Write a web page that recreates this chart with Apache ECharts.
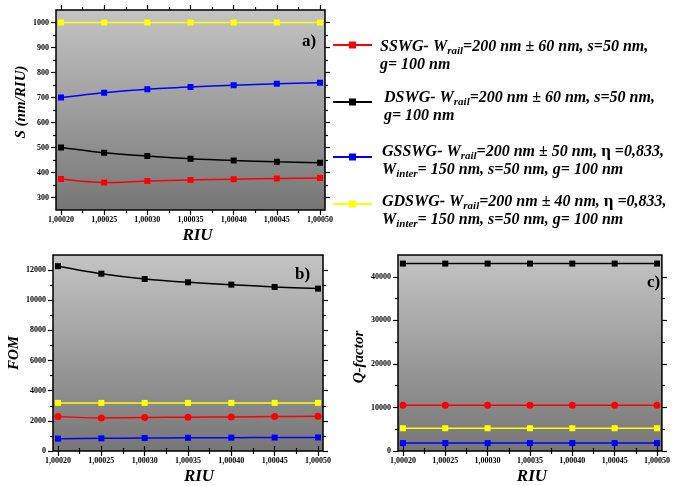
<!DOCTYPE html>
<html>
<head>
<meta charset="utf-8">
<script src="https://cdn.jsdelivr.net/npm/echarts@6/dist/echarts.min.js"></script>
<style>
html,body{margin:0;padding:0;background:#fff}
#main{width:673px;height:486px}
</style>
</head>
<body>
<div id="main"></div>
<script>
// x values (RIU)
var riu = [1.00020, 1.00025, 1.00030, 1.00035, 1.00040, 1.00045, 1.00050]

// a) sensitivity S (nm/RIU)
var sSSWG = [374, 360, 366, 370, 373, 376, 378]
var sDSWG = [500, 479, 466, 455, 448, 443, 439]
var sGSSWG = [700, 719, 733, 742, 749, 755, 759]
var sGDSWG = [1000, 1000, 1000, 1000, 1000, 1000, 1000]

// b) FOM
var fomSSWG = [2280, 2190, 2220, 2240, 2260, 2280, 2300]
var fomDSWG = [12260, 11760, 11410, 11190, 11035, 10880, 10770]
var fomGSSWG = [820, 840, 860, 875, 885, 890, 900]
var fomGDSWG = [3190, 3190, 3190, 3190, 3190, 3190, 3190]

// c) Q-factor
var qSSWG = [10530, 10530, 10530, 10530, 10530, 10530, 10530]
var qDSWG = [43030, 43030, 43030, 43030, 43030, 43030, 43030]
var qGSSWG = [1820, 1820, 1820, 1820, 1820, 1820, 1820]
var qGDSWG = [5230, 5230, 5230, 5230, 5230, 5230, 5230]

// tick labels
var sTicks = [300, 400, 500, 600, 700, 800, 900, 1000]
var fomTicks = [0, 2000, 4000, 6000, 8000, 10000, 12000]
var qTicks = [0, 10000, 20000, 30000, 40000]

var chart = echarts.init(document.getElementById('main'))
var serif = '"Liberation Serif", "Times New Roman", serif'
var red = '#ff0000', black = '#000000', blue = '#0000ff', yellow = '#ffff00'

function riuLabel(v) { return v.toFixed(5).replace('.', ',') }
function plainLabel(v) { return String(v) }
function mids(arr) {
	var out = []
	for (var i = 0; i < arr.length - 1; i++) out.push((arr[i] + arr[i + 1]) / 2)
	return out
}
function minorAfter(arr) {
	// midpoints plus one past the last tick
	var m = mids(arr)
	m.push(arr[arr.length - 1] + (arr[1] - arr[0]) / 2)
	return m
}
var pad = 0.0000058
var xMin = riu[0] - pad, xMax = riu[riu.length - 1] + pad

var grids = [
	{left: 56, top: 10, width: 269, height: 200},
	{left: 53, top: 255, width: 270, height: 198},
	{left: 398, top: 255, width: 269, height: 198}
]
var bg = new echarts.graphic.LinearGradient(0, 0, 0, 1, [
	{offset: 0, color: '#c4c4c4'},
	{offset: 1, color: '#767676'}
])

var xAxes = [], yAxes = []
var tickStyle = {color: '#000', width: 1.2}
var labelStyle = {fontSize: 8, fontWeight: 'bold', fontFamily: serif, color: '#000'}

function addAxes(g, yMin, yMax, yTicks, yMinor, yName, yGap, yNamePad, xNamePad) {
	var base = xAxes.length
	// bottom main
	xAxes.push({
		type: 'value', gridIndex: g, min: xMin, max: xMax, position: 'bottom',
		axisLine: {show: false}, splitLine: {show: false},
		axisTick: {show: true, customValues: riu, length: 5, lineStyle: tickStyle},
		axisLabel: Object.assign({customValues: riu, formatter: riuLabel, margin: 6}, labelStyle),
		name: 'RIU', nameLocation: 'middle', nameGap: 17,
		nameTextStyle: {fontSize: 17, fontStyle: 'italic', fontWeight: 'bold', fontFamily: serif, color: '#000', padding: xNamePad}
	})
	// bottom minor, top main, top minor
	var extra = [['bottom', mids(riu), 3], ['top', riu, 5], ['top', mids(riu), 3]]
	extra.forEach(function (e) {
		xAxes.push({
			type: 'value', gridIndex: g, min: xMin, max: xMax, position: e[0],
			axisLine: {show: false}, splitLine: {show: false}, axisLabel: {show: false},
			axisTick: {show: true, customValues: e[1], length: e[2], lineStyle: tickStyle}
		})
	})
	yAxes.push({
		type: 'value', gridIndex: g, min: yMin, max: yMax, position: 'left',
		axisLine: {show: false}, splitLine: {show: false},
		axisTick: {show: true, customValues: yTicks, length: 5, lineStyle: tickStyle},
		axisLabel: Object.assign({customValues: yTicks, formatter: plainLabel, margin: 7}, labelStyle),
		name: yName, nameLocation: 'middle', nameGap: yGap,
		nameTextStyle: {fontSize: 15, fontStyle: 'italic', fontWeight: 'bold', fontFamily: serif, color: '#000', padding: yNamePad}
	})
	var yExtra = [['left', yMinor, 3], ['right', yTicks, 5], ['right', yMinor, 3]]
	yExtra.forEach(function (e) {
		yAxes.push({
			type: 'value', gridIndex: g, min: yMin, max: yMax, position: e[0],
			axisLine: {show: false}, splitLine: {show: false}, axisLabel: {show: false},
			axisTick: {show: true, customValues: e[1].filter(function (v) { return v < yMax }), length: e[2], lineStyle: tickStyle}
		})
	})
	return base
}

var ia = addAxes(0, 250, 1050, sTicks, minorAfter(sTicks), 'S (nm/RIU)', 26, [0, 0, 0, 16], [0, 0, 0, 14])
var ib = addAxes(1, 0, 13000, fomTicks, minorAfter(fomTicks), 'FOM', 30, [0, 0, 0, 0], [0, 0, 0, 22])
var ic = addAxes(2, 0, 45000, qTicks, minorAfter(qTicks), 'Q-factor', 30, [0, 8, 0, 0], [0, 0, 0, 4])

function pts(arr) { return riu.map(function (x, i) { return [x, arr[i]] }) }
function line(name, color, data, axisIdx, symbol) {
	return {
		name: name, type: 'line', xAxisIndex: axisIdx, yAxisIndex: axisIdx,
		data: pts(data), smooth: 0.3, symbol: symbol || 'rect', symbolSize: symbol === 'circle' ? 7 : 6,
		lineStyle: {color: color, width: 1.5}, itemStyle: {color: color, borderWidth: 0},
		animation: false
	}
}

var series = [
	line('GDSWG', yellow, sGDSWG, ia),
	line('GSSWG', blue, sGSSWG, ia),
	line('DSWG', black, sDSWG, ia),
	line('SSWG', red, sSSWG, ia),
	line('DSWG', black, fomDSWG, ib),
	line('GDSWG', yellow, fomGDSWG, ib),
	line('SSWG', red, fomSSWG, ib, 'circle'),
	line('GSSWG', blue, fomGSSWG, ib),
	line('DSWG', black, qDSWG, ic),
	line('SSWG', red, qSSWG, ic, 'circle'),
	line('GDSWG', yellow, qGDSWG, ic),
	line('GSSWG', blue, qGSSWG, ic)
]

// legend text
var rich = {
	b: {fontFamily: serif, fontStyle: 'italic', fontWeight: 'bold', fontSize: 16, lineHeight: 18, verticalAlign: 'middle', fill: '#000'},
	s: {fontFamily: serif, fontStyle: 'italic', fontWeight: 'bold', fontSize: 11, lineHeight: 10, padding: [8, 0, 0, 0], verticalAlign: 'middle', fill: '#000'},
	e: {fontFamily: serif, fontWeight: 'bold', fontSize: 17, lineHeight: 18, verticalAlign: 'middle', fill: '#000'}
}
var legendItems = [
	{color: red, y: 45, tx: 380, ty: 38, text: '{b|SSWG- W}{s|rail}{b|=200 nm ± 60 nm, s=50 nm,}\n{b|g= 100 nm}'},
	{color: black, y: 102, tx: 384, ty: 89, text: '{b|DSWG- W}{s|rail}{b|=200 nm ± 60 nm, s=50 nm,}\n{b|g= 100 nm}'},
	{color: blue, y: 157, tx: 382, ty: 143, text: '{b|GSSWG- W}{s|rail}{b|=200 nm ± 50 nm, }{e|η}{b| =0,833,}\n{b|W}{s|inter}{b|= 150 nm, s=50 nm, g= 100 nm}'},
	{color: yellow, y: 204, tx: 382, ty: 193, text: '{b|GDSWG- W}{s|rail}{b|=200 nm ± 40 nm, }{e|η}{b| =0,833,}\n{b|W}{s|inter}{b|= 150 nm, s=50 nm, g= 100 nm}'}
]
var graphics = []
legendItems.forEach(function (it) {
	graphics.push({type: 'line', shape: {x1: 333, y1: it.y, x2: 372, y2: it.y}, style: {stroke: it.color, lineWidth: 2}})
	graphics.push({type: 'rect', shape: {x: 349, y: it.y - 3.5, width: 7, height: 7}, style: {fill: it.color}})
	graphics.push({type: 'text', x: it.tx, y: it.ty, style: {text: it.text, rich: rich, verticalAlign: 'top'}})
})
var panelFont = 'bold 17px ' + serif
graphics.push({type: 'text', x: 302, y: 33, style: {text: 'a)', font: panelFont, fill: '#000'}})
graphics.push({type: 'text', x: 295, y: 266, style: {text: 'b)', font: panelFont, fill: '#000'}})
graphics.push({type: 'text', x: 647, y: 274, style: {text: 'c)', font: panelFont, fill: '#000'}})

chart.setOption({
	backgroundColor: '#fff',
	animation: false,
	grid: grids.map(function (g) {
		return Object.assign({show: true, backgroundColor: bg, borderColor: '#000', borderWidth: 1.5, containLabel: false}, g)
	}),
	xAxis: xAxes,
	yAxis: yAxes,
	series: series,
	graphic: graphics
})
</script>
</body>
</html>
